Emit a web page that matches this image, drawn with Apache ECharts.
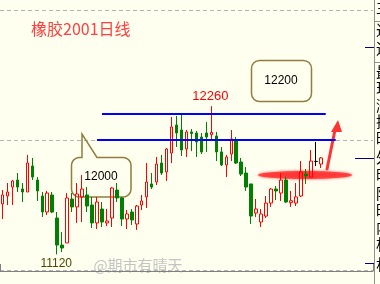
<!DOCTYPE html>
<html><head><meta charset="utf-8">
<script src="https://cdn.jsdelivr.net/npm/echarts@6.0.0/dist/echarts.min.js"></script>
<style>html,body{margin:0;padding:0;background:#fffff0;}#c{width:380px;height:284px;}</style>
</head><body><div id="c"></div>
<script>
// categories: trading days (65 drawn + empty space on the right)
const categories = Array.from({length: 75}, (_, i) => 'D' + (i + 1));
const openP  = [11508,11569,11638,11692,11623,11600,11800,11692,11569,11446,
                11577,11400,11192,11208,11546,11485,11562,11577,11500,11362,
                11469,11362,11400,11615,11554,11392,11446,11354,11500,11562,
                11662,11677,11823,11754,11900,12115,12077,11931,12062,12054,
                12023,12054,12041,12031,11908,11808,11892,11992,11831,11746,
                11662,11438,11369,11415,11515,11623,11592,11692,11518,11515,
                11569,11738,11715,11835,11815];
const closeP = [11577,11600,11685,11638,11600,11823,11715,11608,11446,11592,
                11446,11192,11169,11554,11485,11585,11623,11492,11362,11523,
                11369,11377,11631,11554,11392,11431,11385,11492,11531,11677,
                11638,11815,11746,11931,12100,12054,11923,12062,12050,11985,
                11908,12023,12059,11908,11808,11869,12008,11823,11738,11638,
                11415,11469,11431,11515,11623,11608,11692,11523,11533,11562,
                11754,11723,11838,11835,11862];
const lowP   = [11392,11500,11500,11600,11523,11600,11692,11531,11408,11423,
                11438,11120,11138,11208,11446,11362,11369,11446,11323,11315,
                11331,11338,11331,11523,11338,11315,11346,11308,11462,11477,
                11623,11654,11731,11685,11823,11946,11877,11869,11915,11869,
                11892,11908,12000,11838,11800,11715,11838,11815,11723,11608,
                11354,11408,11331,11400,11485,11538,11531,11515,11485,11492,
                11562,11662,11715,11800,11785];
const highP  = [11615,11669,11692,11746,11669,11885,11862,11715,11600,11608,
                11600,11446,11292,11592,11592,11669,11731,11638,11562,11562,
                11523,11469,11638,11669,11562,11462,11469,11500,11577,11823,
                11746,11869,11885,11938,12177,12185,12192,12077,12085,12069,
                12054,12138,12260,12062,11946,11885,12077,12023,11862,11792,
                11662,11546,11469,11569,11631,11646,11746,11715,11608,11669,
                11838,11777,11923,11985,11869];
const levels = [12200, 12000];          // blue horizontal levels
const levelSpans = [[20, 65], [19, 67]]; // category index spans of the levels
const yTicks = [11000, 12000, 13000];
const titleText = '橡胶2001日线';
const boxLabels = ['12200', '12000'];
const extremeLabels = ['12260', '11120'];
const watermark = '@期市有晴天';
const sideChars = ['主','近','远','最','现','涨','换','昨','外','时','阶','昨','内','相','杠'];

const chart = echarts.init(document.getElementById('c'));
const kdata = openP.map((o, i) => [o, closeP[i], lowP[i], highP[i]]);

chart.setOption({
  backgroundColor: '#fffff0',
  animation: false,
  grid: {left: -2, top: 10, width: 375, height: 260, containLabel: false},
  xAxis: {
    type: 'category', data: categories, boundaryGap: true, offset: 1,
    axisLine: {show: true, lineStyle: {color: '#808080', width: 1}},
    axisTick: {show: true, inside: true, length: 7, interval: (i) => i === 64,
               lineStyle: {color: '#808080'}},
    axisLabel: {show: false}, splitLine: {show: false}
  },
  yAxis: {
    type: 'value', min: yTicks[0], max: yTicks[2], interval: 1000, scale: true,
    axisLine: {show: false}, axisTick: {show: false}, axisLabel: {show: false},
    splitLine: {show: true, lineStyle: {color: '#b4b4b4', type: [4, 3], width: 1}}
  },
  series: [{
    type: 'candlestick', data: kdata, barWidth: 3,
    itemStyle: {
      color: 'rgba(0,0,0,0)', borderColor: '#ff0000',
      color0: '#008000', borderColor0: '#008000',
      borderColorDoji: '#000000', borderWidth: 1
    },
    markLine: {
      silent: true, symbol: ['none', 'none'], label: {show: false},
      lineStyle: {color: '#0000ff', width: 2, type: 'solid'},
      data: levels.map((v, i) => [
        {coord: [categories[levelSpans[i][0]], v]},
        {coord: [categories[levelSpans[i][1]], v]}
      ])
    }
  }]
});

const pHi = chart.convertToPixel({gridIndex: 0}, [categories[42], highP[42]]);
const pLo = chart.convertToPixel({gridIndex: 0}, [categories[11], lowP[11]]);
const boxColor = '#8f7e3e';

// rounded-corner helper for the callout outline
function arcPts(cx, cy, r, a0, a1) {
  const pts = [];
  for (let s = 0; s <= 6; s++) {
    const a = a0 + (a1 - a0) * s / 6;
    pts.push([cx + r * Math.cos(a), cy + r * Math.sin(a)]);
  }
  return pts;
}
const L = 71.5, R = 131, T = 157.5, B = 197, rr = 8, PI = Math.PI;
const callout = [
  [82, T], [82, 134], [97, T],
  ...arcPts(R - rr, T + rr, rr, -PI / 2, 0),
  ...arcPts(R - rr, B - rr, rr, 0, PI / 2),
  ...arcPts(L + rr, B - rr, rr, PI / 2, PI),
  ...arcPts(L + rr, T + rr, rr, PI, 1.5 * PI)
];

chart.setOption({
  graphic: [
    // right side panel
    {type: 'line', shape: {x1: 374.5, y1: 0, x2: 374.5, y2: 284}, style: {stroke: '#909090', lineWidth: 1}},
    {type: 'line', shape: {x1: 374, y1: 21.5, x2: 380, y2: 21.5}, style: {stroke: '#909090', lineWidth: 1}},
    {type: 'line', shape: {x1: 374, y1: 62.5, x2: 380, y2: 62.5}, style: {stroke: '#909090', lineWidth: 1}},
    {type: 'line', shape: {x1: 365, y1: 47.5, x2: 374, y2: 47.5}, style: {stroke: '#000080', lineWidth: 1}},
    {type: 'line', shape: {x1: 355, y1: 158.5, x2: 374, y2: 158.5}, style: {stroke: '#000080', lineWidth: 1}},
    {type: 'line', shape: {x1: 365, y1: 263.5, x2: 374, y2: 263.5}, style: {stroke: '#000080', lineWidth: 1}},
    ...sideChars.map((ch, i) => ({
      type: 'text', x: 376, y: [7,30,48,72,88,105,121,138,157,174,193,210,227,244,264][i],
      style: {text: ch, fill: '#000', fontSize: 15, fontFamily: 'Noto Sans CJK SC', align: 'left', verticalAlign: 'middle'}
    })),
    // title
    {type: 'text', x: 31, y: 29, style: {text: titleText, fill: '#ff4040', fontSize: 16,
      fontFamily: 'Noto Sans CJK SC', align: 'left', verticalAlign: 'middle'}},
    // box 12200
    {type: 'rect', shape: {x: 251.5, y: 60.5, width: 60, height: 41, r: 8},
      style: {fill: 'none', stroke: boxColor, lineWidth: 1.5}},
    {type: 'text', x: 281, y: 81, style: {text: boxLabels[0], fill: '#000', fontSize: 12,
      fontFamily: 'Liberation Sans', align: 'center', verticalAlign: 'middle'}},
    // callout 12000
    {type: 'polygon', shape: {points: callout},
      style: {fill: 'none', stroke: boxColor, lineWidth: 1.5}},
    {type: 'text', x: 101, y: 177, style: {text: boxLabels[1], fill: '#000', fontSize: 12,
      fontFamily: 'Liberation Sans', align: 'center', verticalAlign: 'middle'}},
    // extremes
    {type: 'text', x: pHi[0] - 1, y: pHi[1] - 10, style: {text: extremeLabels[0], fill: '#ff0000', fontSize: 13,
      fontFamily: 'Liberation Sans', align: 'center', verticalAlign: 'middle'}},
    {type: 'text', x: pLo[0] - 1, y: pLo[1] + 9, style: {text: extremeLabels[1], fill: '#4a4a00', fontSize: 12,
      fontFamily: 'Liberation Sans', align: 'center', verticalAlign: 'middle'}},
    // watermark
    {type: 'text', x: 138, y: 265, style: {text: watermark, fill: '#c4c4c4', fontSize: 15,
      fontFamily: 'Noto Sans CJK SC', align: 'center', verticalAlign: 'middle'}},
    // red ellipse highlight
    {type: 'ellipse', shape: {cx: 305, cy: 175, rx: 47, ry: 4}, style: {fill: '#ff3030', opacity: 0.8,
      shadowBlur: 3, shadowColor: '#ff3030'}},
    // red arrow
    {type: 'line', shape: {x1: 327, y1: 169, x2: 335, y2: 130}, style: {stroke: '#ff3333', lineWidth: 3, lineCap: 'round'}},
    {type: 'polygon', shape: {points: [[338, 120], [331, 132], [342, 132]]}, style: {fill: '#ff3333'}}
  ]
});
</script></body></html>
